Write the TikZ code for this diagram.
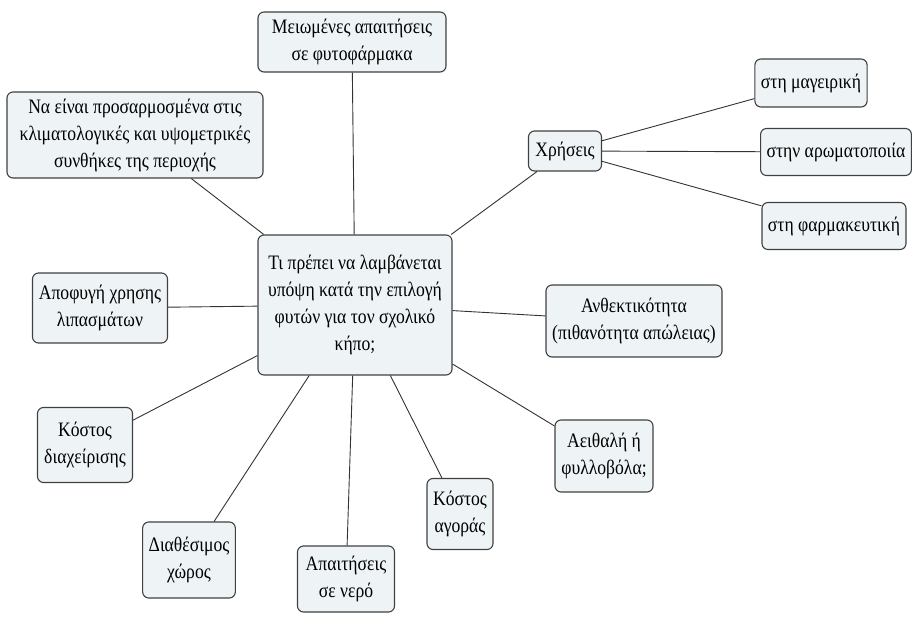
\documentclass[tikz,border=0pt]{standalone}
\usepackage{fontspec}
\setmainfont{Liberation Serif}[FakeStretch=0.86]
\usetikzlibrary{positioning}
\definecolor{conceptfill}{RGB}{238,244,246}

\begin{document}
\begin{tikzpicture}[
    x=1pt, y=-1pt,
    concept/.style={rectangle, draw=black!75, fill=conceptfill, line width=1.1pt, rounded corners=6pt, align=center, inner sep=6pt, font=\rmfamily\fontsize{20.5}{27}\selectfont},
    link/.style={draw=black!80, line width=0.9pt}
]
\useasboundingbox (0,0) rectangle (914,620);

% Central question
\node[concept, minimum width=194pt, minimum height=140pt] (q) at (355,305) {Τι πρέπει να λαμβάνεται\\υπόψη κατά την επιλογή\\φυτών για τον σχολικό\\κήπο;};

% Upper concepts
\node[concept, minimum width=188pt, minimum height=60pt] (pest) at (352,42) {Μειωμένες απαιτήσεις\\σε φυτοφάρμακα};
\node[concept, minimum width=256pt, minimum height=86pt] (clim) at (135,135) {Να είναι προσαρμοσμένα στις\\κλιματολογικές και υψομετρικές\\συνθήκες της περιοχής};

% Uses
\node[concept, minimum width=73pt, minimum height=40pt] (use) at (565,151) {Χρήσεις};
\node[concept, minimum width=111pt, minimum height=48pt] (cook) at (811,83) {στη μαγειρική};
\node[concept, minimum width=148pt, minimum height=47pt] (arom) at (836,152) {στην αρωματοποιία};
\node[concept, minimum width=143pt, minimum height=47pt] (pharm) at (834,226) {στη φαρμακευτική};

% Right side
\node[concept, minimum width=176pt, minimum height=72pt] (res) at (634,321) {Ανθεκτικότητα\\(πιθανότητα απώλειας)};
\node[concept, minimum width=98pt, minimum height=72pt] (leaf) at (604,456) {Αειθαλή ή\\φυλλοβόλα;};

% Left side
\node[concept, minimum width=135pt, minimum height=70pt] (fert) at (100,308) {Αποφυγή χρησης\\λιπασμάτων};
\node[concept, minimum width=95pt, minimum height=75pt] (mng) at (85,445) {Κόστος\\διαχείρισης};

% Bottom
\node[concept, minimum width=92pt, minimum height=76pt] (space) at (189,560) {Διαθέσιμος\\χώρος};
\node[concept, minimum width=97pt, minimum height=66pt] (water) at (346,579) {Απαιτήσεις\\σε νερό};
\node[concept, minimum width=66pt, minimum height=71pt] (buy) at (460,514) {Κόστος\\αγοράς};

% Links
\foreach \n in {pest, clim, use, res, leaf, fert, mng, space, water, buy}
    \draw[link] (q) -- (\n);
\foreach \n in {cook, arom, pharm}
    \draw[link] (use) -- (\n);

\end{tikzpicture}
\end{document}
